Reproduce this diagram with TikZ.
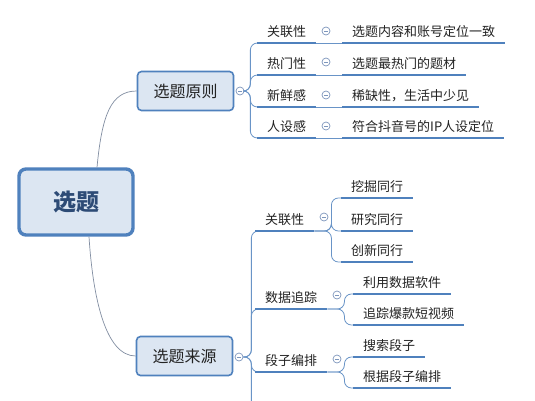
\documentclass[tikz,border=0pt]{standalone}
\usepackage{fontspec}
\setmainfont{Noto Sans CJK SC}
\usetikzlibrary{calc}
\definecolor{mapblue}{RGB}{79,129,189}
\definecolor{boxfill}{RGB}{220,230,242}
\definecolor{linkgray}{RGB}{130,142,162}
\definecolor{togglegray}{RGB}{125,150,188}
\definecolor{roottext}{RGB}{45,75,118}
\definecolor{textdark}{RGB}{35,35,35}

\begin{document}
\begin{tikzpicture}[
  x=1pt,
  y=-1pt,
  root box/.style={
    draw=mapblue,
    line width=3.4pt,
    fill=boxfill,
    rounded corners=7pt,
    minimum width=114pt,
    minimum height=66pt,
    font=\fontsize{23}{26}\selectfont\bfseries,
    text=roottext
  },
  sub box/.style={
    draw=mapblue,
    line width=1.6pt,
    fill=boxfill,
    rounded corners=4pt,
    minimum width=96pt,
    minimum height=39pt,
    font=\fontsize{16}{19}\selectfont,
    text=textdark
  },
  topic/.style={
    anchor=south west,
    inner xsep=10pt,
    inner ysep=4.5pt,
    text height=11pt,
    text depth=2pt,
    font=\fontsize{13}{15}\selectfont,
    text=textdark
  },
  toggle/.style={
    circle,
    draw=togglegray,
    line width=0.7pt,
    fill=white,
    minimum size=8pt,
    inner sep=0pt,
    path picture={
      \draw[togglegray, line width=0.7pt]
        ([xshift=2pt]path picture bounding box.west) --
        ([xshift=-2pt]path picture bounding box.east);
    }
  },
  uline/.style={
    draw=mapblue,
    line width=2.6pt
  },
  link/.style={
    draw=mapblue!85,
    line width=0.8pt,
    rounded corners=7pt
  },
  root link/.style={
    draw=linkgray,
    line width=0.7pt
  }
]

\useasboundingbox[fill=white] (0,0) rectangle (535,400);
\clip (0,0) rectangle (535,400);

% central topic and the two main branches
\node[root box] (root) at (76,202) {选题};
\node[sub box] (yuanze) at (185.5,91) {选题原则};
\node[sub box] (laiyuan) at (184.5,356) {选题来源};
\node[toggle] (yuanze-t) at (240,91) {};
\node[toggle] (laiyuan-t) at (239,357) {};

\draw[root link] ([xshift=21pt]root.north) .. controls +(5,-52) and +(-26,0) .. (yuanze.west);
\draw[root link] ([xshift=13pt]root.south) .. controls +(4,62) and +(-30,0) .. (laiyuan.west);

% 选题原则
\node[topic] (p1) at (257,43) {关联性};
\node[topic] (p2) at (257,75) {热门性};
\node[topic] (p3) at (257,107) {新鲜感};
\node[topic] (p4) at (257,138) {人设感};
\node[topic] (l1) at (342,43) {选题内容和账号定位一致};
\node[topic] (l2) at (342,75) {选题最热门的题材};
\node[topic] (l3) at (342,107) {稀缺性，生活中少见};
\node[topic] (l4) at (342,138) {符合抖音号的IP人设定位};
\foreach \k/\ty in {1/31,2/62,3/95,4/126}{
  \node[toggle] (p\k-t) at (326,\ty) {};
  \draw[link] (yuanze-t.east) -- ++(6,0) |- (p\k.south west);
  \draw[link] (p\k.south east) -- (l\k.south west);
}

% 选题来源
\coordinate (laiyuan-more) at (247,420);
\node[topic] (q1) at (255,231) {关联性};
\node[topic] (q2) at (255,309) {数据追踪};
\node[topic] (q3) at (255,372) {段子编排};
\node[toggle] (q1-t) at (324,217) {};
\node[toggle] (q2-t) at (337,295) {};
\node[toggle] (q3-t) at (337,359) {};
\foreach \k in {q1,q2,q3}{
  \draw[link] (laiyuan-t.east) -- ++(8,0) |- (\k.south west);
}
\draw[link] (laiyuan-t.east) -- ++(8,0) |- (laiyuan-more);

\node[topic] (r1) at (341,198) {挖掘同行};
\node[topic] (r2) at (341,231) {研究同行};
\node[topic] (r3) at (341,262) {创新同行};
\node[topic] (s1) at (353,294) {利用数据软件};
\node[topic] (s2) at (353,325) {追踪爆款短视频};
\node[topic] (u1) at (353,357) {搜索段子};
\node[topic] (u2) at (353,388) {根据段子编排};
\foreach \k in {r1,r2,r3}{
  \draw[link] (q1.south east) -- ++(17,0) |- (\k.south west);
}
\foreach \k in {s1,s2}{
  \draw[link] (q2.south east) -- ++(17,0) |- (\k.south west);
}
\foreach \k in {u1,u2}{
  \draw[link] (q3.south east) -- ++(17,0) |- (\k.south west);
}

% underlines under every topic
\foreach \k in {p1,p2,p3,p4,l1,l2,l3,l4,q1,q2,q3,r1,r2,r3,s1,s2,u1,u2}{
  \draw[uline] (\k.south west) -- (\k.south east);
}

\end{tikzpicture}
\end{document}
